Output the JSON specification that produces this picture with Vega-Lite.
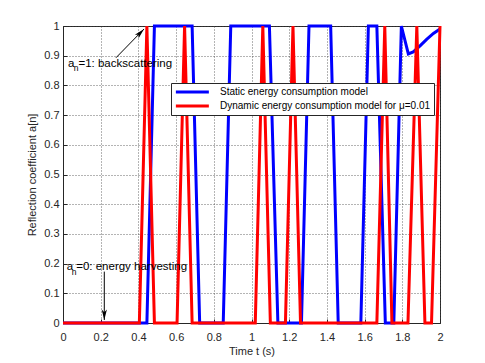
{
  "$schema": "https://vega.github.io/schema/vega-lite/v6.json",
  "width": 377,
  "height": 297,
  "autosize": {"type": "none"},
  "padding": {"left": 63, "top": 26, "right": 45, "bottom": 40},
  "background": "white",
  "config": {
    "view": {"stroke": "#262626", "strokeWidth": 1},
    "font": "Liberation Sans",
    "axis": {
      "labelFont": "Liberation Sans",
      "titleFont": "Liberation Sans",
      "labelFontSize": 11,
      "titleFontSize": 11,
      "titleFontWeight": "normal",
      "labelColor": "#262626",
      "titleColor": "#262626",
      "domainColor": "#262626",
      "tickColor": "#262626",
      "tickSize": -4,
      "labelOverlap": false,
      "labelFlush": false,
      "gridColor": "#444444",
      "gridDash": [1, 2],
      "gridOpacity": 0.8
    },
    "axisX": {"labelPadding": 12},
    "axisY": {"labelPadding": 8}
  },
  "datasets": {
    "curves": [
      {"t": 0, "a": 0, "model": "Static"},
      {"t": 0.445, "a": 0, "model": "Static"},
      {"t": 0.485, "a": 1, "model": "Static"},
      {"t": 0.685, "a": 1, "model": "Static"},
      {"t": 0.725, "a": 0, "model": "Static"},
      {"t": 0.85, "a": 0, "model": "Static"},
      {"t": 0.89, "a": 1, "model": "Static"},
      {"t": 1.095, "a": 1, "model": "Static"},
      {"t": 1.14, "a": 0, "model": "Static"},
      {"t": 1.265, "a": 0, "model": "Static"},
      {"t": 1.305, "a": 1, "model": "Static"},
      {"t": 1.42, "a": 1, "model": "Static"},
      {"t": 1.46, "a": 0, "model": "Static"},
      {"t": 1.58, "a": 0, "model": "Static"},
      {"t": 1.62, "a": 1, "model": "Static"},
      {"t": 1.665, "a": 1, "model": "Static"},
      {"t": 1.71, "a": 0, "model": "Static"},
      {"t": 1.755, "a": 0, "model": "Static"},
      {"t": 1.795, "a": 1, "model": "Static"},
      {"t": 1.832, "a": 0.906, "model": "Static"},
      {"t": 1.858, "a": 0.913, "model": "Static"},
      {"t": 1.894, "a": 0.933, "model": "Static"},
      {"t": 1.929, "a": 0.955, "model": "Static"},
      {"t": 1.965, "a": 0.975, "model": "Static"},
      {"t": 2.0, "a": 0.99, "model": "Static"},
      {"t": 0, "a": 0, "model": "Dynamic"},
      {"t": 0.405, "a": 0, "model": "Dynamic"},
      {"t": 0.445, "a": 1, "model": "Dynamic"},
      {"t": 0.485, "a": 0, "model": "Dynamic"},
      {"t": 0.605, "a": 0, "model": "Dynamic"},
      {"t": 0.645, "a": 1, "model": "Dynamic"},
      {"t": 0.685, "a": 0, "model": "Dynamic"},
      {"t": 1.02, "a": 0, "model": "Dynamic"},
      {"t": 1.06, "a": 1, "model": "Dynamic"},
      {"t": 1.1, "a": 0, "model": "Dynamic"},
      {"t": 1.18, "a": 0, "model": "Dynamic"},
      {"t": 1.22, "a": 1, "model": "Dynamic"},
      {"t": 1.26, "a": 0, "model": "Dynamic"},
      {"t": 1.665, "a": 0, "model": "Dynamic"},
      {"t": 1.707, "a": 1, "model": "Dynamic"},
      {"t": 1.745, "a": 0, "model": "Dynamic"},
      {"t": 1.83, "a": 0, "model": "Dynamic"},
      {"t": 1.877, "a": 1, "model": "Dynamic"},
      {"t": 1.92, "a": 0, "model": "Dynamic"},
      {"t": 1.955, "a": 0, "model": "Dynamic"},
      {"t": 2.0, "a": 1, "model": "Dynamic"}
    ],
    "arrows": [
      {"id": "up", "t": 0.281, "a": 0.893, "t2": 0.43, "a2": 0.99},
      {"id": "down", "t": 0.219, "a": 0.173, "t2": 0.219, "a2": 0.01}
    ],
    "mainText": [
      {"t": 0.027, "a": 0.863, "label": "a"},
      {"t": 0.082, "a": 0.863, "label": "=1: backscattering"},
      {"t": 0.02, "a": 0.177, "label": "a"},
      {"t": 0.07, "a": 0.177, "label": "=0: energy harvesting"}
    ],
    "subText": [
      {"t": 0.057, "a": 0.849, "label": "n"},
      {"t": 0.046, "a": 0.163, "label": "n"}
    ]
  },
  "encoding": {
    "x": {
      "field": "t", "type": "quantitative",
      "scale": {"domain": [0, 2], "nice": false},
      "axis": {"title": "Time t (s)", "values": [0, 0.2, 0.4, 0.6, 0.8, 1, 1.2, 1.4, 1.6, 1.8, 2], "format": "~g", "grid": true, "titlePadding": 3}
    },
    "y": {
      "field": "a", "type": "quantitative",
      "scale": {"domain": [0, 1], "nice": false},
      "axis": {"title": "Reflection coefficient a[n]", "values": [0, 0.1, 0.2, 0.3, 0.4, 0.5, 0.6, 0.7, 0.8, 0.9, 1], "format": "~g", "grid": true, "titlePadding": 6}
    }
  },
  "layer": [
    {
      "data": {"name": "curves"},
      "transform": [{"filter": "datum.model === 'Static'"}],
      "mark": {"type": "line", "strokeWidth": 3, "clip": false},
      "encoding": {
        "order": {"field": "t", "type": "quantitative"},
        "color": {
          "field": "model", "type": "nominal",
          "scale": {"domain": ["Static", "Dynamic"], "range": ["#0000ff", "#ff0000"]},
          "legend": {
            "title": null,
            "orient": "none",
            "legendX": 108,
            "legendY": 57,
            "fillColor": "white",
            "strokeColor": "#262626",
            "padding": 3,
            "symbolType": "M-1,0H7",
            "symbolSize": 68,
            "symbolStrokeWidth": 3,
            "labelFontSize": 10,
            "labelFont": "Liberation Sans",
            "labelColor": "#000000",
            "labelOffset": 34,
            "labelLimit": 400,
            "rowPadding": 2,
            "labelExpr": "datum.label === 'Static' ? 'Static energy consumption model' : 'Dynamic energy consumption model for μ=0.01'"
          }
        }
      }
    },
    {
      "data": {"name": "curves"},
      "transform": [{"filter": "datum.model === 'Dynamic'"}],
      "mark": {"type": "line", "strokeWidth": 3, "clip": false},
      "encoding": {
        "order": {"field": "t", "type": "quantitative"},
        "color": {"field": "model", "type": "nominal"}
      }
    },
    {
      "data": {"name": "arrows"},
      "mark": {"type": "rule", "color": "#000000", "strokeWidth": 1},
      "encoding": {
        "x2": {"field": "t2"},
        "y2": {"field": "a2"}
      }
    },
    {
      "data": {"name": "arrows"},
      "transform": [{"filter": "datum.id === 'up'"}],
      "mark": {"type": "point", "shape": "M0,0 L0.5,2 L0,1.5 L-0.5,2 Z", "angle": 44, "size": 110, "filled": true, "color": "#000000", "opacity": 1},
      "encoding": {
        "x": {"field": "t2", "type": "quantitative"},
        "y": {"field": "a2", "type": "quantitative"}
      }
    },
    {
      "data": {"name": "arrows"},
      "transform": [{"filter": "datum.id === 'down'"}],
      "mark": {"type": "point", "shape": "M0,0 L0.5,2 L0,1.5 L-0.5,2 Z", "angle": 180, "size": 110, "filled": true, "color": "#000000", "opacity": 1},
      "encoding": {
        "x": {"field": "t2", "type": "quantitative"},
        "y": {"field": "a2", "type": "quantitative"}
      }
    },
    {
      "data": {"name": "mainText"},
      "mark": {"type": "text", "align": "left", "baseline": "alphabetic", "fontSize": 11.5, "font": "Liberation Sans", "color": "#000000"},
      "encoding": {
        "text": {"field": "label"}
      }
    },
    {
      "data": {"name": "subText"},
      "mark": {"type": "text", "align": "left", "baseline": "alphabetic", "fontSize": 8.5, "font": "Liberation Sans", "color": "#000000"},
      "encoding": {
        "text": {"field": "label"}
      }
    }
  ]
}
